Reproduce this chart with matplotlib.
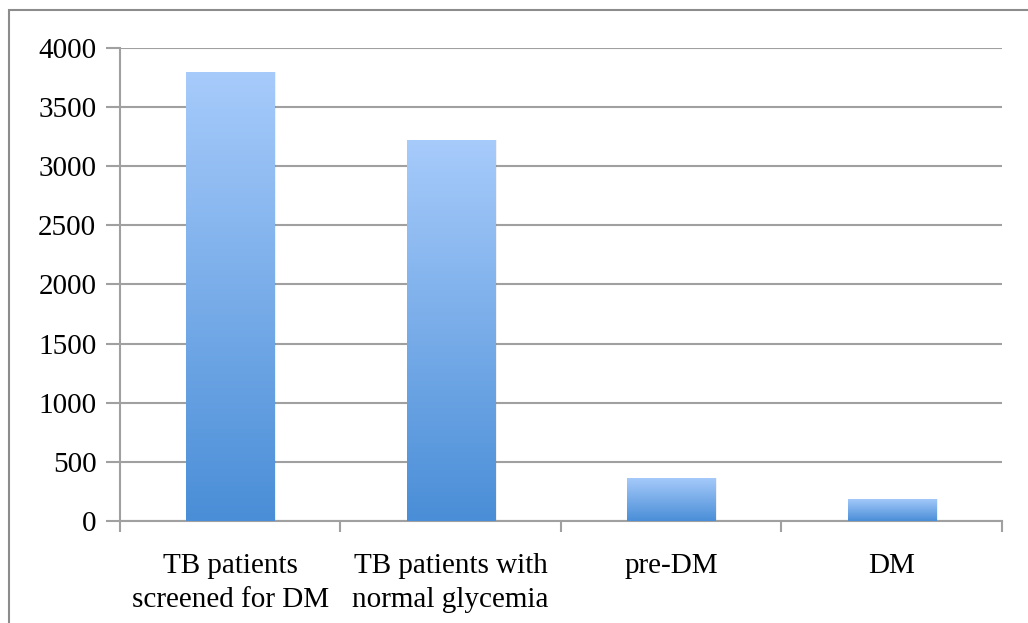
import numpy as np
import matplotlib.pyplot as plt
from matplotlib.colors import LinearSegmentedColormap
from matplotlib.patches import Rectangle

# TB / diabetes screening counts
categories = ["TB patients\nscreened for DM", "TB patients with\nnormal glycemia", "pre-DM", "DM"]
patients = [3795, 3220, 365, 190]
yticks = [0, 500, 1000, 1500, 2000, 2500, 3000, 3500, 4000]

plt.rcParams['font.family'] = ['Liberation Serif', 'DejaVu Serif']

fig = plt.figure(figsize=(10.28, 6.23), dpi=100)
ax = fig.add_axes([0.1167, 0.1637, 0.8580, 0.7593])

# outer frame (only top and left edges are visible)
fig.patches.append(Rectangle((0.009, -0.1), 1.2, 1.084, transform=fig.transFigure,
                             fill=False, edgecolor='#8c8c8c', linewidth=1.5))

grid_c = '#a0a0a0'
x = np.arange(len(categories))
bars = ax.bar(x, patients, width=0.4, color='none', edgecolor='none', zorder=3)

# vertical blue gradient inside each bar, light at the top
cmap = LinearSegmentedColormap.from_list('bluegrad', ['#4a8ed7', '#a7cbfb'])
grad = np.linspace(0, 1, 256).reshape(-1, 1)
for b in bars:
    x0, w, h = b.get_x(), b.get_width(), b.get_height()
    # soft shadow
    ax.add_patch(Rectangle((x0 + 0.008, 0), w, h, facecolor='#000000', alpha=0.06,
                           edgecolor='none', zorder=2))
    im = ax.imshow(grad, cmap=cmap, aspect='auto', origin='lower',
                   extent=[x0, x0 + w, 0, h], zorder=3)
    im.set_clip_path(b)

ax.set_xlim(-0.5, len(categories) - 0.5)
ax.set_ylim(0, 4000)
ax.set_yticks(yticks)
ax.set_yticklabels([str(v) for v in yticks])
ax.set_xticks(x)
ax.set_xticklabels(categories, linespacing=1.4)
ax.tick_params(axis='x', length=0, pad=23, labelsize=21)
ax.tick_params(axis='y', length=10, width=1.5, color=grid_c, pad=7, labelsize=21)

# category boundary ticks below the axis
ax.set_xticks(np.arange(-0.5, len(categories)), minor=True)
ax.tick_params(axis='x', which='minor', length=8, width=1.5, color=grid_c)

ax.yaxis.grid(True, color=grid_c, linewidth=1.5)
ax.set_axisbelow(True)
for s in ['top', 'right']:
    ax.spines[s].set_visible(False)
ax.spines['left'].set_color(grid_c)
ax.spines['bottom'].set_color(grid_c)
ax.spines['left'].set_linewidth(1.5)
ax.spines['bottom'].set_linewidth(1.5)

fig.savefig('out.png', dpi=100)
